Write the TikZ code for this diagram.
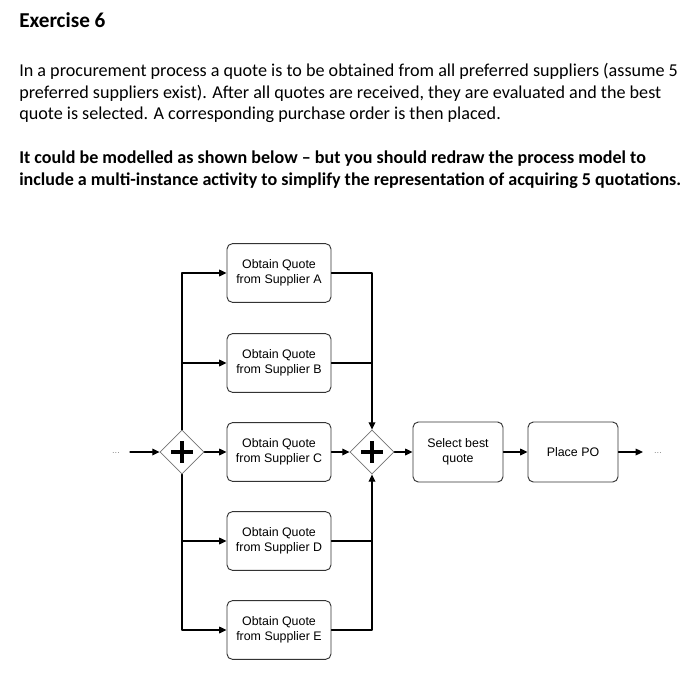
\documentclass[tikz,border=0pt]{standalone}
\usepackage{fontspec}
\setmainfont{Carlito}
\newfontfamily\diafont{Liberation Sans}
\usetikzlibrary{arrows.meta,shapes.geometric}

\begin{document}
\begin{tikzpicture}[x=0.75pt, y=-0.75pt, line cap=round, line join=round,
  txt/.style={anchor=base west, inner sep=0pt, font=\fontsize{13.6}{16}\selectfont},
  task/.style={draw=black!80, line width=0.7pt, rounded corners=4pt, minimum width=78pt,
    minimum height=44pt, align=center, inner sep=1pt,
    font=\diafont\fontsize{9.3}{11.4}\selectfont},
  gate/.style={draw=black!55, line width=0.6pt, diamond, minimum width=33pt, minimum height=33pt,
    inner sep=0pt, path picture={
      \draw[draw=black, line width=2.6pt, line cap=butt] (path picture bounding box.center) +(-8pt,0) -- +(8pt,0)
        (path picture bounding box.center) +(0,-8pt) -- +(0,8pt);}},
  flow/.style={-{Triangle[length=5.5pt,width=5pt]}, line width=0.9pt},
  line/.style={line width=0.9pt},
  dots/.style={text=black!45, inner sep=0pt, font=\diafont\fontsize{7}{8}\selectfont}]
  \useasboundingbox (0,0) rectangle (694,690);
  \node[txt, font=\bfseries\fontsize{15.9}{18}\selectfont] (title) at (19,27) {Exercise 6};
  \node[txt] (p1a) at (19,76) {In a procurement process a quote is to be obtained from all preferred suppliers (assume 5};
  \node[txt] (p1b) at (19,98) {preferred suppliers exist). After all quotes are received, they are evaluated and the best};
  \node[txt] (p1c) at (19,119) {quote is selected. A corresponding purchase order is then placed.};
  \node[txt, font=\bfseries\fontsize{13.55}{16}\selectfont] (p2a) at (19,163) {It could be modelled as shown below -- but you should redraw the process model to};
  \node[txt, font=\bfseries\fontsize{13.55}{16}\selectfont] (p2b) at (19,185) {include a multi-instance activity to simplify the representation of acquiring 5 quotations.};

  \node[task] (tA) at (279,273) {Obtain Quote\\from Supplier A};
  \node[task] (tB) at (279,363) {Obtain Quote\\from Supplier B};
  \node[task] (tC) at (279,452) {Obtain Quote\\from Supplier C};
  \node[task] (tD) at (279,541) {Obtain Quote\\from Supplier D};
  \node[task] (tE) at (279,630) {Obtain Quote\\from Supplier E};
  \node[gate] (split) at (182,452) {};
  \node[gate] (join) at (372,452) {};
  \node[task, minimum width=67.5pt, minimum height=45pt] (select) at (458,452) {Select best\\quote};
  \node[task, minimum width=67.5pt, minimum height=45pt] (place) at (573,452) {Place PO};
  \node[dots] (dotsL) at (116,453) {...};
  \node[dots] (dotsR) at (658,453) {...};
  \coordinate (inL) at (130,452);
  \coordinate (outR) at (643,452);

  \draw[flow] (inL) -- (split);
  \draw[flow] (split.north) |- (tA.west);
  \draw[flow] (split |- tB.west) -- (tB.west);
  \draw[flow] (split) -- (tC);
  \draw[flow] (split |- tD.west) -- (tD.west);
  \draw[flow] (split.south) |- (tE.west);
  \draw[flow] (tA.east) -| (join.north);
  \draw[line] (tB.east) -- (join |- tB.east);
  \draw[flow] (tC) -- (join);
  \draw[line] (tD.east) -- (join |- tD.east);
  \draw[flow] (tE.east) -| (join.south);
  \draw[flow] (join) -- (select);
  \draw[flow] (select) -- (place);
  \draw[flow] (place) -- (outR);
\end{tikzpicture}
\end{document}
